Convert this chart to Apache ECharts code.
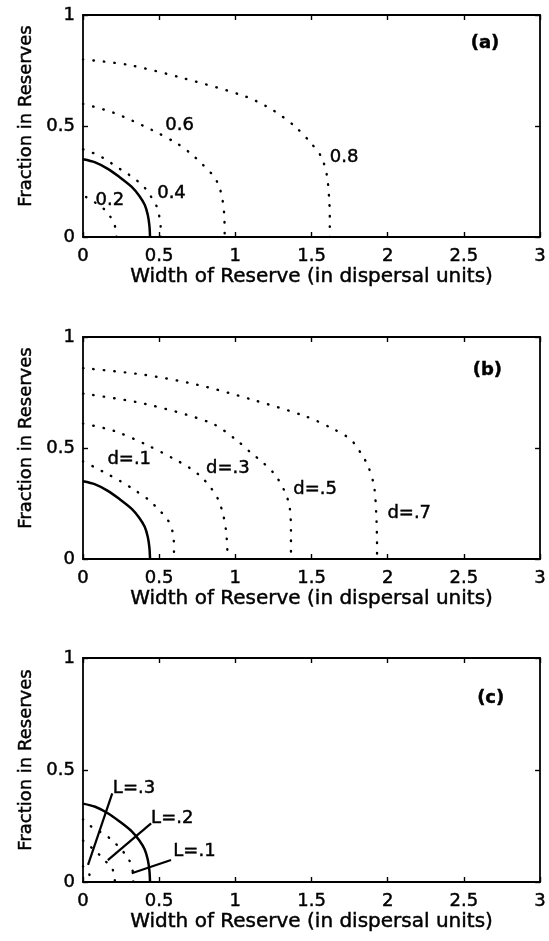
<!DOCTYPE html>
<html><head><meta charset="utf-8">
<script src="https://cdn.jsdelivr.net/npm/echarts/dist/echarts.min.js"></script>
<style>html,body{margin:0;padding:0;background:#fff}#c{width:549px;height:941px}</style>
</head><body><div id="c"></div>
<script>
// ---------- data ----------
const xTickLabels = ['0','0.5','1','1.5','2','2.5','3'];
const yTickLabels = ['0','0.5','1'];
const xTitle = 'Width of Reserve (in dispersal units)';
const yTitle = 'Fraction in Reserves';

// solid threshold curve (same in all panels)
const thresholdCurve = [[0,0.35],[0.08,0.336],[0.16,0.308],[0.24,0.27],[0.32,0.226],[0.37,0.185],[0.405,0.145],[0.425,0.1],[0.436,0.05],[0.44,0]];

// panel (a): dotted contours
const a02 = [[0.02,0.18],[0.06,0.165],[0.1,0.145],[0.148,0.12],[0.186,0.084],[0.212,0.044],[0.22,0]];
const a04 = [[0,0.395],[0.09,0.372],[0.148,0.35],[0.2,0.326],[0.264,0.297],[0.318,0.273],[0.37,0.245],[0.42,0.21],[0.453,0.174],[0.486,0.134],[0.503,0.084],[0.51,0.04],[0.51,0]];
const a06 = [[0,0.6],[0.2,0.56],[0.45,0.483],[0.62,0.42],[0.7,0.38],[0.78,0.33],[0.85,0.28],[0.89,0.235],[0.915,0.17],[0.927,0.1],[0.93,0]];
const a08 = [[0,0.8],[0.3,0.775],[0.66,0.715],[1.07,0.632],[1.25,0.57],[1.393,0.497],[1.5,0.42],[1.565,0.36],[1.6,0.28],[1.615,0.18],[1.62,0.08],[1.62,0]];
const labelsA = [{t:'0.2',x:0.082,y:0.163},{t:'0.4',x:0.487,y:0.198},{t:'0.6',x:0.54,y:0.505},{t:'0.8',x:1.62,y:0.358}];

// panel (b)
const b01 = [[0,0.44],[0.08,0.412],[0.16,0.383],[0.247,0.35],[0.34,0.31],[0.43,0.267],[0.5,0.22],[0.556,0.177],[0.59,0.117],[0.597,0.05],[0.597,0]];
const b03 = [[0,0.61],[0.2,0.578],[0.4,0.52],[0.6,0.45],[0.7,0.41],[0.773,0.372],[0.84,0.32],[0.888,0.267],[0.92,0.2],[0.94,0.12],[0.95,0]];
const b05 = [[0,0.745],[0.4,0.7],[0.84,0.613],[1.0,0.54],[1.1,0.48],[1.185,0.432],[1.26,0.38],[1.32,0.31],[1.355,0.24],[1.365,0.12],[1.365,0]];
const b07 = [[0,0.86],[0.4,0.83],[0.75,0.785],[1.1,0.72],[1.46,0.643],[1.63,0.59],[1.757,0.538],[1.83,0.47],[1.872,0.417],[1.91,0.33],[1.925,0.2],[1.93,0.05],[1.93,0]];
const labelsB = [{t:'d=.1',x:0.16,y:0.45},{t:'d=.3',x:0.808,y:0.41},{t:'d=.5',x:1.38,y:0.312},{t:'d=.7',x:1.998,y:0.207}];

// panel (c)
const c01 = [[0,0.28],[0.011,0.27],[0.07,0.24],[0.13,0.217],[0.186,0.19],[0.23,0.16],[0.27,0.13],[0.305,0.095],[0.327,0.046],[0.33,0]];
const c02 = [[0,0.185],[0.011,0.18],[0.07,0.145],[0.12,0.113],[0.165,0.08],[0.196,0.054],[0.21,0]];
const c03 = [[0,0.07],[0.039,0.039],[0.05,0]];
const leaderL3 = [[0.033,0.076],[0.192,0.396]];
const leaderL2 = [[0.163,0.098],[0.447,0.262]];
const leaderL1 = [[0.32,0.039],[0.578,0.098]];
const labelsC = [{t:'L=.3',x:0.196,y:0.418},{t:'L=.2',x:0.447,y:0.284},{t:'L=.1',x:0.593,y:0.135}];

const panelTags = [{t:'(a)',x:2.545,y:0.873},{t:'(b)',x:2.558,y:0.85},{t:'(c)',x:2.587,y:0.82}];

// ---------- layout / style ----------
const FONT = 'DejaVu Sans';
const TXT = {color:'#000',fontFamily:FONT,textBorderColor:'#000',textBorderWidth:0.45};
const grids = [
  {left:83,right:8,top:15,height:222},
  {left:83,right:8,top:337,height:222},
  {left:83,right:8,top:658,height:224}
];
const panels = [
  {solid:[thresholdCurve], dotted:[a02,a04,a06,a08], leaders:[], labels:labelsA},
  {solid:[thresholdCurve], dotted:[b01,b03,b05,b07], leaders:[], labels:labelsB},
  {solid:[thresholdCurve], dotted:[c01,c02,c03], leaders:[leaderL3,leaderL2,leaderL1], labels:labelsC}
];

const axisLine = {onZero:false, lineStyle:{color:'#000', width:1.8}};
const tick = {inside:true, length:5, lineStyle:{color:'#000', width:1.4}};
const xAxes = [], yAxes = [], series = [];
grids.forEach((g,i)=>{
  xAxes.push({gridIndex:i,type:'value',min:0,max:3,interval:0.5,position:'bottom',
    axisLine, axisTick:tick, splitLine:{show:false},
    axisLabel:Object.assign({fontSize:18,margin:10,showMinLabel:true,showMaxLabel:true,
      formatter:(v)=>xTickLabels[Math.round(v/0.5)]},TXT),
    name:xTitle,nameLocation:'middle',nameGap:29,
    nameTextStyle:Object.assign({fontSize:20},TXT)});
  xAxes.push({gridIndex:i,type:'value',min:0,max:3,interval:0.5,position:'top',
    axisLine, axisTick:tick, splitLine:{show:false}, axisLabel:{show:false}});
  yAxes.push({gridIndex:i,type:'value',min:0,max:1,interval:0.5,position:'left',
    axisLine, axisTick:tick, splitLine:{show:false},
    axisLabel:Object.assign({fontSize:18,margin:8,showMinLabel:true,showMaxLabel:true,
      formatter:(v)=>yTickLabels[Math.round(v/0.5)]},TXT),
    name:yTitle,nameLocation:'middle',nameGap:46,
    nameTextStyle:Object.assign({fontSize:18,padding:[0,0,0,20]},TXT)});
  yAxes.push({gridIndex:i,type:'value',min:0,max:1,interval:0.5,position:'right',
    axisLine, axisTick:tick, splitLine:{show:false}, axisLabel:{show:false}});

  const p = panels[i];
  const xi = 2*i, yi = 2*i;
  p.solid.forEach(d=>series.push({type:'line',xAxisIndex:xi,yAxisIndex:yi,data:d,showSymbol:false,smooth:0.3,
    silent:true,lineStyle:{color:'#000',width:2.5}}));
  p.dotted.forEach(d=>series.push({type:'line',xAxisIndex:xi,yAxisIndex:yi,data:d,showSymbol:false,smooth:0.3,
    silent:true,lineStyle:{color:'#000',width:2.4,type:[0.5,10],cap:'round'}}));
  p.leaders.forEach(d=>series.push({type:'line',xAxisIndex:xi,yAxisIndex:yi,data:d,showSymbol:false,
    silent:true,lineStyle:{color:'#000',width:2.2}}));
  series.push({type:'scatter',xAxisIndex:xi,yAxisIndex:yi,symbolSize:0,silent:true,itemStyle:{opacity:1},
    data:p.labels.map(l=>({value:[l.x,l.y],name:l.t})),
    label:Object.assign({show:true,formatter:'{b}',position:[0,0],align:'left',verticalAlign:'middle',
      fontSize:18,opacity:1},TXT)});
  series.push({type:'scatter',xAxisIndex:xi,yAxisIndex:yi,symbolSize:0,silent:true,itemStyle:{opacity:1},
    data:[{value:[panelTags[i].x,panelTags[i].y],name:panelTags[i].t}],
    label:Object.assign({show:true,formatter:'{b}',position:[0,0],align:'left',verticalAlign:'middle',
      fontSize:18,fontWeight:'bold',opacity:1},TXT)});
});

const chart = echarts.init(document.getElementById('c'), null, {renderer:'canvas'});
chart.setOption({animation:false,backgroundColor:'#fff',grid:grids,xAxis:xAxes,yAxis:yAxes,series});
</script></body></html>
